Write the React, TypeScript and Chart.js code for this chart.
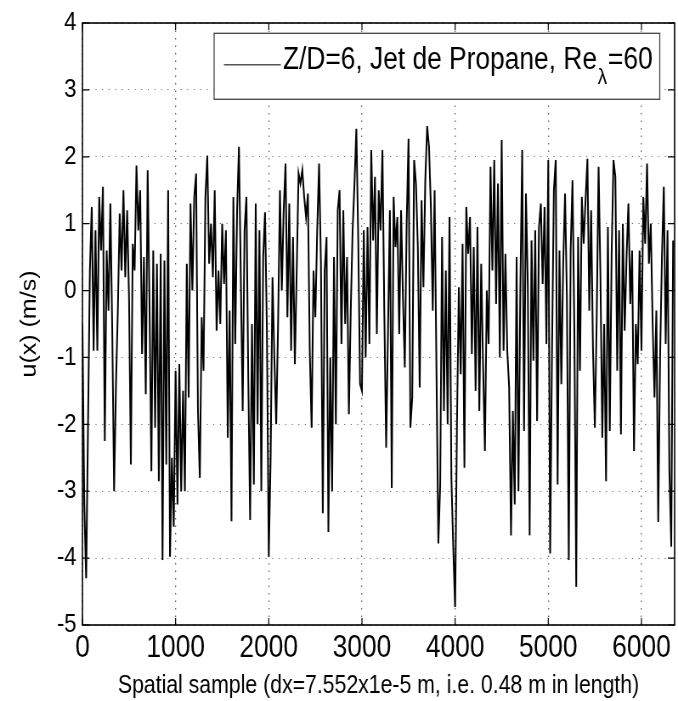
import React, { useEffect, useRef } from "react";
import { Chart, registerables } from "chart.js";

Chart.register(...registerables);

const FONT = '"Liberation Sans", Arial, Helvetica, sans-serif';

// Signal sampled every SAMPLE_STEP samples, one array per 1000-sample block
const SAMPLE_STEP = 20;
const SAMPLE_MAX = 6356;
const X_TICK_VALUES = [0, 1000, 2000, 3000, 4000, 5000, 6000];
const Y_TICK_VALUES = [-5, -4, -3, -2, -1, 0, 1, 2, 3, 4];

const U_0000 = [
  -0.5, -3.2, -4.3, -2.0, 0.3, 1.25, -0.9, 0.9, -0.9, 1.4,
  0.6, 1.55, -2.25, 0.6, -0.3, 1.3, -0.6, -3.0, -1.4, -0.3,
  1.15, 0.3, 1.5, 0.2, 1.2, -0.1, -2.6, 0.7, 0.3, 1.87,
  0.9, 1.5, -0.95, 0.5, -1.55, 1.8, -0.2, -2.7, 0.6, -2.05,
  0.4, -2.85, 0.55, -4.03, 0.45, -2.6, 1.5, -3.98, -2.5, -3.53,
];
const U_1000 = [
  -1.2, -3.2, -1.1, -3.0, -1.5, -3.0, 0.4, -1.6, 1.3, 0.0,
  1.4, 1.75, -1.8, -2.8, -0.4, -1.2, 1.4, 2.02, 0.4, 1.0,
  0.2, 1.5, -0.6, 0.3, -0.5, 1.0, 0.1, 0.9, -2.2, -0.3,
  -3.45, 1.4, -0.8, 1.2, 2.15, 0.2, -1.8, 0.9, 1.4, -1.3,
  -3.43, -0.5, -2.9, 1.3, -2.0, 0.9, -3.0, 0.5, 1.17, -0.6,
];
const U_2000 = [
  -3.98, -2.5, 0.2, -1.0, -2.0, -0.5, 1.5, 0.0, 1.2, 1.9,
  -0.4, 1.3, -0.9, 0.8, -1.1, 0.3, 1.75, 1.6, 1.8, 1.4,
  1.1, 1.45, -0.9, -2.05, 0.3, -0.4, 0.9, 1.9, 0.4, -3.33,
  0.3, 0.8, -3.61, -1.0, -3.0, 0.5, -2.0, 1.2, 1.5, -0.8,
  1.2, -0.5, 0.5, -1.85, -0.3, 0.9, 1.6, 2.42, 0.8, -1.4,
];
const U_3000 = [
  -1.5, 0.9, -1.0, 0.95, -0.8, 2.1, 0.75, 1.7, -0.65, 1.5,
  0.9, 2.1, -0.3, -2.35, -0.6, 1.2, -2.95, 1.4, 0.65, 1.1,
  -0.65, 1.2, -0.1, -1.15, 1.0, 2.27, -2.05, -1.6, 1.95, 1.6,
  0.65, -1.45, 1.35, 0.05, 1.65, 2.46, 2.15, 1.25, -0.3, 1.5,
  -1.2, -3.78, -2.9, 0.8, -1.8, 0.3, -2.0, 1.1, -2.8, -3.83,
];
const U_4000 = [
  -4.73, -2.0, 0.05, -1.25, 0.7, -2.65, 1.25, 0.55, 1.1, -0.95,
  0.65, -1.5, 0.95, -1.8, 0.4, -1.1, -2.4, 0.0, -0.8, 1.85,
  0.3, 1.95, -0.2, 1.6, -1.0, 2.25, -0.9, 0.55, -0.9, -1.45,
  -3.66, -1.8, -3.2, 0.5, -3.0, 0.0, 2.1, -2.1, 1.45, 0.1,
  -3.66, 0.75, -1.05, 0.9, -1.95, 0.95, 1.3, 0.1, 1.25, -0.8,
];
const U_5000 = [
  1.95, -3.93, -0.9, 1.5, 1.95, -2.9, 0.6, -1.4, 0.4, 1.45,
  -0.1, -4.03, 0.6, 1.65, -0.6, -4.43, 0.8, -1.2, 1.4, 0.7,
  1.35, 1.97, -0.3, 1.2, -0.9, -2.05, -0.4, 1.85, 0.2, -2.2,
  -0.5, -2.85, 0.95, -2.1, 0.55, 1.95, 1.7, -1.2, 0.9, -2.15,
  1.0, -0.6, 0.5, 1.3, -0.2, 0.6, -2.4, -0.5, -1.1, 0.6,
];
const U_6000 = [
  -0.9, 1.4, 0.7, 1.9, 0.4, 1.0, -0.5, -1.6, -0.3, -3.46,
  -1.0, 0.5, 1.55, -0.8, 0.9, -2.69, -3.83, 0.75,
];

const LEGEND_MAIN = "Z/D=6, Jet de Propane, Re";
const LEGEND_SUB = "λ";
const LEGEND_TAIL = "=60";
const X_TITLE = "Spatial sample (dx=7.552x1e-5 m, i.e. 0.48 m in length)";
const Y_TITLE = "u(x) (m/s)";

const SIGNAL = [U_0000, U_1000, U_2000, U_3000, U_4000, U_5000, U_6000].flat();

const frameAndLegend = {
  id: "frameAndLegend",
  afterDatasetsDraw(chart: any) {
    const { ctx, chartArea, scales } = chart;
    const { left, top, right, bottom } = chartArea;
    ctx.save();
    ctx.setLineDash([]);
    ctx.strokeStyle = "#000";
    ctx.lineWidth = 1.2;
    ctx.beginPath();
    scales.x.ticks.forEach((t: any) => {
      const px = scales.x.getPixelForValue(t.value);
      ctx.moveTo(px, bottom);
      ctx.lineTo(px, bottom - 7);
      ctx.moveTo(px, top);
      ctx.lineTo(px, top + 7);
    });
    scales.y.ticks.forEach((t: any) => {
      const py = scales.y.getPixelForValue(t.value);
      ctx.moveTo(left, py);
      ctx.lineTo(left + 8, py);
      ctx.moveTo(right, py);
      ctx.lineTo(right - 8, py);
    });
    ctx.stroke();
    ctx.lineWidth = 1.6;
    ctx.strokeRect(left, top, right - left, bottom - top);
    ctx.restore();
  },
  afterDraw(chart: any) {
    const { ctx, chartArea } = chart;
    const { top, right } = chartArea;
    const boxLeft = right - 542;
    const boxTop = top + 10.3;
    const boxW = 524.5;
    const boxH = 66;
    ctx.save();
    ctx.setLineDash([]);
    ctx.fillStyle = "#fff";
    ctx.fillRect(boxLeft, boxTop, boxW, boxH);
    ctx.strokeStyle = "#444";
    ctx.lineWidth = 1.3;
    ctx.strokeRect(boxLeft, boxTop, boxW, boxH);
    // sample line
    ctx.strokeStyle = "#555";
    ctx.lineWidth = 1.5;
    ctx.beginPath();
    ctx.moveTo(boxLeft + 11.5, boxTop + 31.5);
    ctx.lineTo(boxLeft + 78.6, boxTop + 31.5);
    ctx.stroke();
    // text
    ctx.fillStyle = "#000";
    ctx.textBaseline = "alphabetic";
    ctx.textAlign = "left";
    let tx = boxLeft + 81;
    const ty = boxTop + 36;
    ctx.font = `31px ${FONT}`;
    ctx.fillText(LEGEND_MAIN, tx, ty);
    tx += ctx.measureText(LEGEND_MAIN).width + 1;
    ctx.font = `22px ${FONT}`;
    ctx.fillText(LEGEND_SUB, tx, ty + 15);
    tx += ctx.measureText(LEGEND_SUB).width + 1;
    ctx.font = `31px ${FONT}`;
    ctx.fillText(LEGEND_TAIL, tx, ty);
    ctx.restore();
  },
};

export default function App() {
  const ref = useRef<HTMLCanvasElement>(null);

  useEffect(() => {
    const canvas = ref.current;
    if (!canvas) return;
    const points = SIGNAL.map((u, i) => ({ x: i * SAMPLE_STEP, y: u }));
    const chart = new Chart(canvas, {
      type: "line",
      data: {
        datasets: [
          {
            label: LEGEND_MAIN + LEGEND_SUB + LEGEND_TAIL,
            data: points,
            borderColor: "#000",
            borderWidth: 2,
            pointRadius: 0,
            tension: 0,
            fill: false,
          },
        ],
      },
      options: {
        responsive: false,
        animation: false,
        devicePixelRatio: 1,
        layout: { padding: { left: 0, right: 4, top: 23, bottom: 0 } },
        plugins: { legend: { display: false }, tooltip: { enabled: false } },
        scales: {
          x: {
            type: "linear",
            min: 0,
            max: SAMPLE_MAX,
            afterBuildTicks: (s: any) => {
              s.ticks = X_TICK_VALUES.map((v) => ({ value: v }));
            },
            afterFit: (s: any) => {
              s.height = 76;
            },
            ticks: {
              maxRotation: 0,
              minRotation: 0,
              autoSkip: false,
              padding: 5,
              color: "#000",
              font: { family: FONT, size: 31 },
              callback: (v: any) => String(v),
            },
            grid: { color: "rgba(0,0,0,0.6)", lineWidth: 1.3, drawTicks: false },
            border: { display: false, dash: [1.5, 6] },
            title: {
              display: true,
              text: X_TITLE,
              color: "#000",
              font: { family: FONT, size: 25 },
              padding: { top: 0, bottom: 0 },
            },
          },
          y: {
            type: "linear",
            min: Y_TICK_VALUES[0],
            max: Y_TICK_VALUES[Y_TICK_VALUES.length - 1],
            afterBuildTicks: (s: any) => {
              s.ticks = Y_TICK_VALUES.map((v) => ({ value: v }));
            },
            afterFit: (s: any) => {
              s.width = 97;
            },
            ticks: {
              padding: 7,
              color: "#000",
              font: { family: FONT, size: 26 },
              callback: (v: any) => String(v),
            },
            grid: { color: "rgba(0,0,0,0.6)", lineWidth: 1, drawTicks: false },
            border: { display: false, dash: [1.2, 6.5] },
            title: {
              display: true,
              text: Y_TITLE,
              color: "#000",
              font: { family: FONT, size: 25 },
              padding: { top: 20, bottom: 0 },
            },
          },
        },
      },
      plugins: [frameAndLegend],
    } as any);
    return () => chart.destroy();
  }, []);

  return (
    <div
      style={{
        position: "fixed",
        left: 0,
        top: 0,
        width: 678,
        height: 701,
        background: "#fff",
        overflow: "hidden",
      }}
    >
      <canvas
        ref={ref}
        width={798}
        height={701}
        style={{ width: "678px", height: "701px", display: "block" }}
      />
    </div>
  );
}
